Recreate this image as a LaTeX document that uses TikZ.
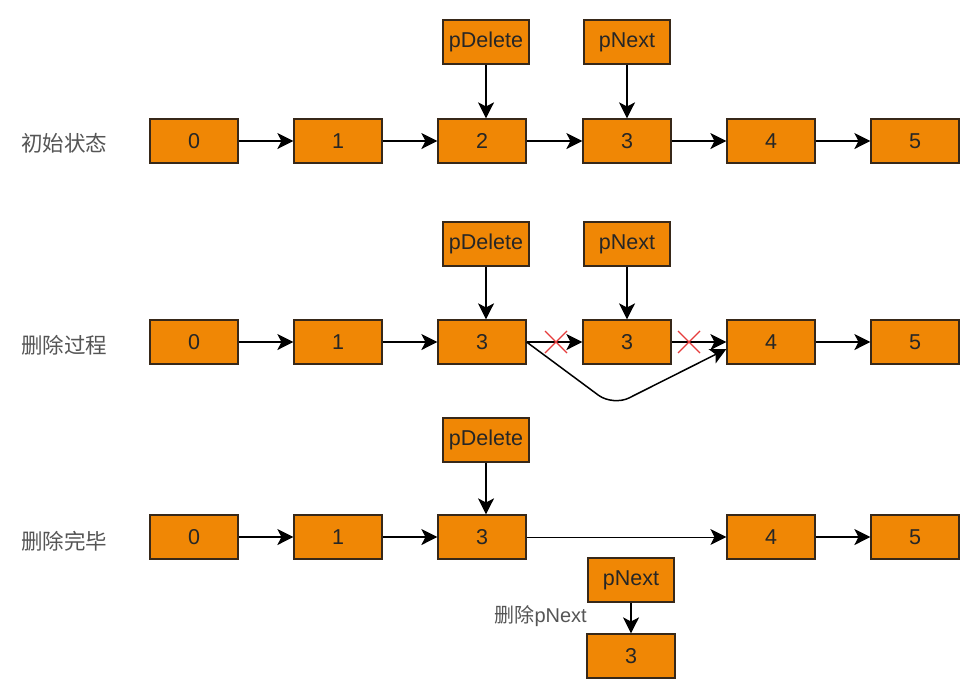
\documentclass[tikz,border=0pt]{standalone}
\usepackage{fontspec}
\setmainfont{Liberation Sans}
\newfontfamily\cjk{Noto Sans CJK SC}
\usetikzlibrary{arrows.meta}
\definecolor{boxfill}{RGB}{240,135,5}
\definecolor{boxline}{RGB}{55,40,25}
\definecolor{lblgray}{RGB}{85,85,85}
\definecolor{xred}{RGB}{230,60,60}
\begin{document}
\begin{tikzpicture}[x=1pt,y=-1pt,
  box/.style={draw=boxline, fill=boxfill, line width=1.2pt, minimum width=88pt, minimum height=44pt, inner sep=0pt, font=\fontsize{21.5}{24}\selectfont, text=black!85},
  ptr/.style={box, minimum width=86pt},
  arr/.style={-{Stealth[length=16pt,width=16pt,inset=4pt]}, line width=1.5pt, black},
  thin arr/.style={-{Stealth[length=16pt,width=16pt,inset=4pt]}, line width=1pt, black},
  lbl/.style={font=\cjk\fontsize{21.5}{24}\selectfont, text=lblgray},
  xmark/.style={draw=xred, line width=1.1pt}]
\useasboundingbox (0,0) rectangle (971,694);
\fill[white] (0,0) rectangle (971,694);

% Row 1
\node[lbl] (l1) at (64,143) {初始状态};
\node[box] (a0) at (194,141) {0};
\node[box] (a1) at (338,141) {1};
\node[box] (a2) at (482,141) {2};
\node[box] (a3) at (627,141) {3};
\node[box] (a4) at (771,141) {4};
\node[box] (a5) at (915,141) {5};
\node[ptr] (ad) at (486,42) {pDelete};
\node[ptr] (an) at (627,42) {pNext};
\draw[arr] (a0) -- (a1);
\draw[arr] (a1) -- (a2);
\draw[arr] (a2) -- (a3);
\draw[arr] (a3) -- (a4);
\draw[arr] (a4) -- (a5);
\draw[arr] (ad.south) -- (ad.south |- a2.north);
\draw[arr] (an.south) -- (an.south |- a3.north);

% Row 2
\node[lbl] (l2) at (64,345) {删除过程};
\node[box] (b0) at (194,342) {0};
\node[box] (b1) at (338,342) {1};
\node[box] (b2) at (482,342) {3};
\node[box] (b3) at (627,342) {3};
\node[box] (b4) at (771,342) {4};
\node[box] (b5) at (915,342) {5};
\node[ptr] (bd) at (486,244) {pDelete};
\node[ptr] (bn) at (627,244) {pNext};
\draw[arr] (b0) -- (b1);
\draw[arr] (b1) -- (b2);
\draw[arr] (b2) -- (b3);
\draw[arr] (b3) -- (b4);
\draw[arr] (b4) -- (b5);
\draw[arr] (bd.south) -- (bd.south |- b2.north);
\draw[arr] (bn.south) -- (bn.south |- b3.north);
\draw[arr, rounded corners=18pt] (b2.east) -- (613,406) -- ([yshift=-7pt]b4.west);
\draw[xmark] (545,331) -- (567,353) (545,353) -- (567,331);
\draw[xmark] (678,331) -- (700,353) (678,353) -- (700,331);

% Row 3
\node[lbl] (l3) at (64,541) {删除完毕};
\node[box] (c0) at (194,537) {0};
\node[box] (c1) at (338,537) {1};
\node[box] (c3) at (482,537) {3};
\node[box] (c4) at (771,537) {4};
\node[box] (c5) at (915,537) {5};
\node[ptr] (cd) at (486,440) {pDelete};
\draw[arr] (c0) -- (c1);
\draw[arr] (c1) -- (c3);
\draw[thin arr] (c3) -- (c4);
\draw[arr] (c4) -- (c5);
\draw[arr] (cd.south) -- (cd.south |- c3.north);

% Deleted node
\node[ptr] (dn) at (631,580) {pNext};
\node[box] (d3) at (631,656) {3};
\draw[arr] (dn.south) -- (d3.north);
\node[font=\fontsize{20}{22}\selectfont, text=lblgray, anchor=east, inner sep=1pt] (l4) at (588,616) {{\cjk 删除}pNext};
\end{tikzpicture}
\end{document}
